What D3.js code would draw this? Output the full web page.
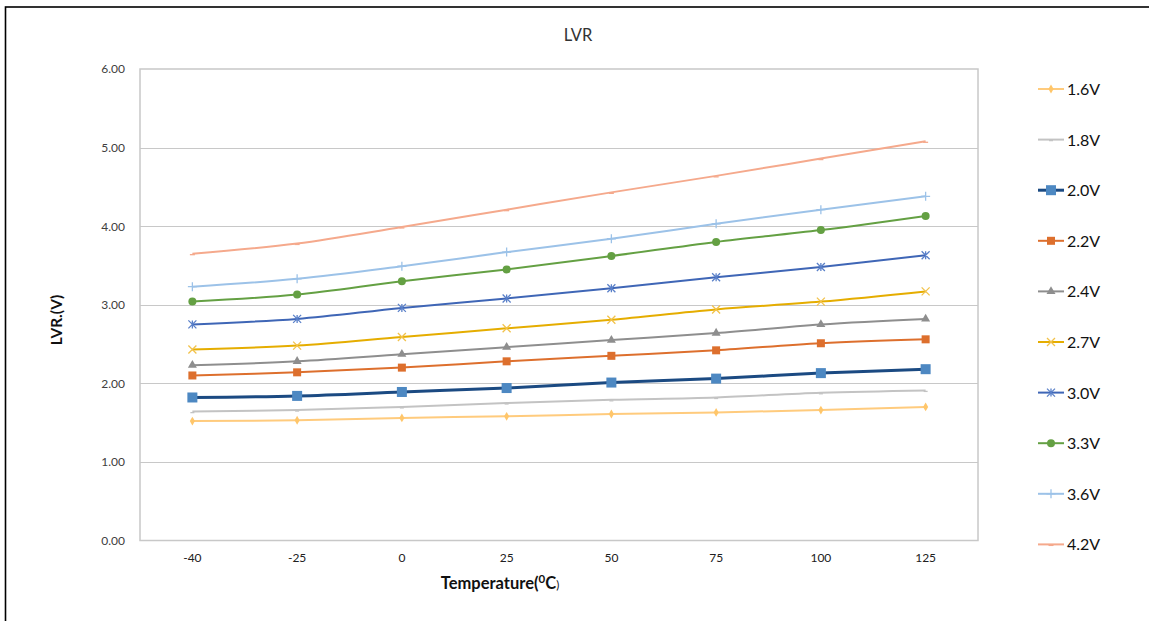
<!DOCTYPE html>
<html><head><meta charset="utf-8">
<script src="https://cdn.jsdelivr.net/npm/d3@7"></script>
<style>
body{margin:0;background:#fff;}
svg{display:block;}
text{font-family:Lato,"Open Sans",sans-serif;}
</style></head>
<body><svg id="c" width="1149" height="621"></svg>
<script>
const categories = ["-40","-25","0","25","50","75","100","125"];
const yTicks = [0,1,2,3,4,5,6];
const seriesNames = ["1.6V","1.8V","2.0V","2.2V","2.4V","2.7V","3.0V","3.3V","3.6V","4.2V"];
const s16 = [1.52,1.53,1.56,1.58,1.61,1.63,1.66,1.70];
const s18 = [1.64,1.66,1.70,1.75,1.79,1.82,1.88,1.91];
const s20 = [1.82,1.84,1.89,1.94,2.01,2.06,2.13,2.18];
const s22 = [2.10,2.14,2.20,2.28,2.35,2.42,2.51,2.56];
const s24 = [2.23,2.28,2.37,2.46,2.55,2.64,2.75,2.82];
const s27 = [2.43,2.48,2.59,2.70,2.81,2.94,3.04,3.17];
const s30 = [2.75,2.82,2.96,3.08,3.21,3.35,3.48,3.63];
const s33 = [3.04,3.13,3.30,3.45,3.62,3.80,3.95,4.13];
const s36 = [3.23,3.33,3.49,3.67,3.84,4.03,4.21,4.38];
const s42 = [3.65,3.78,3.99,4.21,4.43,4.64,4.86,5.08];
const seriesValues = [s16,s18,s20,s22,s24,s27,s30,s33,s36,s42];

const styles = [
 {line:"#FFCB7D", mark:"#FFC66A", w:2, m:"diamond", ms:5},
 {line:"#C3C3C3", mark:"#C3C3C3", w:2, m:"dash", ms:4},
 {line:"#1B4A82", mark:"#4D88C2", w:3, m:"square", ms:10},
 {line:"#DD6F2D", mark:"#DD6F2D", w:2, m:"square", ms:8},
 {line:"#8E8E8E", mark:"#8E8E8E", w:2, m:"triangle", ms:8},
 {line:"#E5AD00", mark:"#F2C24A", w:2, m:"x", ms:8},
 {line:"#3F66B6", mark:"#5A80C9", w:2, m:"asterisk", ms:8},
 {line:"#64A043", mark:"#64A043", w:2, m:"circle", ms:8},
 {line:"#9CC2E8", mark:"#9CC2E8", w:2, m:"plus", ms:9},
 {line:"#F5A98C", mark:"#F5A98C", w:2, m:"dash", ms:5}
];

const svg = d3.select("#c");
svg.append("rect").attr("x",5.5).attr("y",7).attr("width",1160).attr("height",640)
  .attr("fill","none").attr("stroke","#000").attr("stroke-width",1.6);

const L=140, R=978, T=69, B=540.5;
const x = d3.scaleBand().domain(categories).range([L,R]);
const y = d3.scaleLinear().domain([0,6]).range([B,T]);

svg.append("g").selectAll("line").data(yTicks.slice(1,-1)).join("line")
  .attr("x1",L).attr("x2",R).attr("y1",d=>Math.round(y(d))+0.5).attr("y2",d=>Math.round(y(d))+0.5)
  .attr("stroke","#C8C8C8").attr("stroke-width",1.2);
svg.append("rect").attr("x",L).attr("y",T).attr("width",R-L).attr("height",B-T)
  .attr("fill","none").attr("stroke","#C8C8C8").attr("stroke-width",1.5);

const yAxis = d3.axisLeft(y).tickValues(yTicks).tickFormat(d3.format(".2f")).tickSize(0).tickPadding(15);
const ga = svg.append("g").attr("transform",`translate(${L},0)`).call(yAxis);
ga.select(".domain").remove();
ga.selectAll("text").attr("font-size",12).attr("fill","#404040").attr("font-family","Lato,'Open Sans',sans-serif");

const xAxis = d3.axisBottom(x).tickSize(0).tickPadding(13);
const gx = svg.append("g").attr("transform",`translate(0,${B})`).call(xAxis);
gx.select(".domain").remove();
gx.selectAll("text").attr("font-size",12).attr("fill","#202020").attr("font-family","Lato,'Open Sans',sans-serif");

svg.append("text").attr("x",578).attr("y",41).attr("text-anchor","middle")
  .attr("font-size",16.5).attr("fill","#333").text("LVR");
svg.append("text").attr("transform","translate(62,320) rotate(-90)").attr("text-anchor","middle")
  .attr("font-size",15.5).attr("font-weight","bold").attr("fill","#111").text("LVR.(V)");
const xt = svg.append("text").attr("x",500).attr("y",589).attr("text-anchor","middle")
  .attr("font-size",16.5).attr("font-weight","bold").attr("fill","#111");
xt.append("tspan").text("Temperature(");
xt.append("tspan").attr("font-size",11.5).attr("dy",-6).text("0");
xt.append("tspan").attr("dy",6).text("C");
xt.append("tspan").attr("font-size",11.5).attr("font-weight","normal").text(")");

function drawMarker(g, st, cx, cy){
  const s = st.ms;
  if(st.m==="diamond"){
    g.append("path").attr("d",d3.symbol(d3.symbolDiamond, s*s*0.9)()).attr("transform",`translate(${cx},${cy})`).attr("fill",st.mark);
  } else if(st.m==="square"){
    g.append("rect").attr("x",cx-s/2).attr("y",cy-s/2).attr("width",s).attr("height",s).attr("fill",st.mark);
  } else if(st.m==="triangle"){
    g.append("path").attr("d",d3.symbol(d3.symbolTriangle, s*s*0.55)()).attr("transform",`translate(${cx},${cy})`).attr("fill",st.mark);
  } else if(st.m==="circle"){
    g.append("circle").attr("cx",cx).attr("cy",cy).attr("r",s/2).attr("fill",st.mark);
  } else {
    const h=s/2;
    let d="";
    if(st.m==="x") d=`M${cx-h},${cy-h}L${cx+h},${cy+h}M${cx-h},${cy+h}L${cx+h},${cy-h}`;
    else if(st.m==="asterisk") d=`M${cx-h},${cy-h}L${cx+h},${cy+h}M${cx-h},${cy+h}L${cx+h},${cy-h}M${cx},${cy-h}L${cx},${cy+h}`;
    else if(st.m==="plus") d=`M${cx-h},${cy}L${cx+h},${cy}M${cx},${cy-h}L${cx},${cy+h}`;
    else if(st.m==="dash") d=`M${cx-h},${cy+1}L${cx+h},${cy+1}`;
    g.append("path").attr("d",d).attr("stroke",st.mark).attr("stroke-width",1.3).attr("fill","none");
  }
}

const line = d3.line().x((d,i)=>x(categories[i])+x.bandwidth()/2).y(d=>y(d)).curve(d3.curveCatmullRom.alpha(0.5));
const gs = svg.append("g");
seriesValues.forEach((vals,k)=>{
  const st = styles[k];
  const g = gs.append("g");
  g.append("path").datum(vals).attr("d",line).attr("fill","none").attr("stroke",st.line).attr("stroke-width",st.w);
  vals.forEach((v,i)=>drawMarker(g, st, x(categories[i])+x.bandwidth()/2, y(v)));
});

const lg = svg.append("g");
seriesNames.forEach((n,k)=>{
  const st = styles[k];
  const cy = 89 + k*50.6;
  const g = lg.append("g");
  g.append("line").attr("x1",1038).attr("x2",1064).attr("y1",cy).attr("y2",cy).attr("stroke",st.line).attr("stroke-width",st.w);
  drawMarker(g, st, 1051, cy);
  g.append("text").attr("x",1067).attr("y",cy+6).attr("font-size",16).attr("fill","#111").text(n);
});
</script></body></html>
